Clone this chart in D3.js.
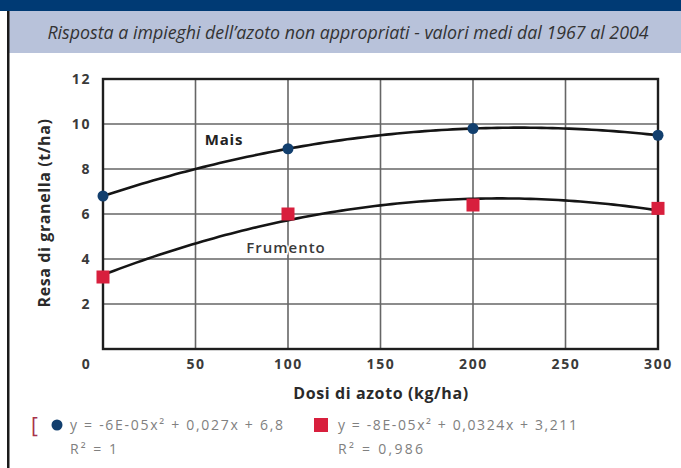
<!DOCTYPE html>
<html>
<head>
<meta charset="utf-8">
<script src="https://cdn.jsdelivr.net/npm/d3@7"></script>
<style>
  body { margin: 0; background: #fff; }
  svg { display: block; font-family: "Open Sans", "Noto Sans", sans-serif; }
</style>
</head>
<body>
<svg id="chart" width="681" height="468"></svg>
<script>
// Nitrogen dose (kg/ha) and mean grain yield (t/ha), 1967-2004
const doses = [0, 100, 200, 300];
const maisYield = [6.8, 8.9, 9.8, 9.5];
const frumentoYield = [3.2, 6.0, 6.4, 6.25];

const seriesNames = ["Mais", "Frumento"];
const xTicks = [0, 50, 100, 150, 200, 250, 300];
const yTicks = [2, 4, 6, 8, 10, 12];
const legendEquations = ["y = -6E-05x² + 0,027x + 6,8", "y = -8E-05x² + 0,0324x + 3,211"];
const legendR2 = ["R² = 1", "R² = 0,986"];
const subtitle = "Risposta a impieghi dell’azoto non appropriati  - valori medi dal 1967 al 2004";
const xTitle = "Dosi di azoto (kg/ha)";
const yTitle = "Resa di granella (t/ha)";

const W = 681, H = 468;
const plot = { left: 103, right: 658, top: 79, bottom: 349 };
const svg = d3.select("#chart");

// Header: dark strip, subtitle band, left rule
svg.append("rect").attr("x", 0).attr("y", 0).attr("width", W).attr("height", 11).attr("fill", "#003a74");
svg.append("rect").attr("x", 9).attr("y", 11).attr("width", W - 9).attr("height", 42).attr("fill", "#b8c2da");
svg.append("rect").attr("x", 7).attr("y", 11).attr("width", 2.5).attr("height", H - 11).attr("fill", "#1a1a1a");
svg.append("text")
  .attr("x", 348).attr("y", 38.5)
  .attr("text-anchor", "middle")
  .attr("font-style", "italic")
  .attr("font-size", 17.8)
  .attr("fill", "#333")
  .text(subtitle);

const x = d3.scaleLinear().domain([0, 300]).range([plot.left, plot.right]);
const y = d3.scaleLinear().domain([0, 12]).range([plot.bottom, plot.top]);

// Grid lines
const grid = svg.append("g").attr("stroke", "#666").attr("stroke-width", 1.6);
grid.selectAll("line.v").data(xTicks.filter(d => d > 0 && d < 300)).join("line")
  .attr("x1", d => x(d)).attr("x2", d => x(d))
  .attr("y1", plot.top).attr("y2", plot.bottom);
grid.selectAll("line.h").data(yTicks.filter(d => d < 12)).join("line")
  .attr("x1", plot.left).attr("x2", plot.right)
  .attr("y1", d => y(d)).attr("y2", d => y(d));

// Frame
svg.append("rect")
  .attr("x", plot.left).attr("y", plot.top)
  .attr("width", plot.right - plot.left).attr("height", plot.bottom - plot.top)
  .attr("fill", "none").attr("stroke", "#1e1e1e").attr("stroke-width", 2.4);

// Axes (labels only)
const tickFont = g => g.selectAll("text")
  .attr("font-family", "'Open Sans', sans-serif")
  .attr("font-size", 14).attr("font-weight", 700).attr("fill", "#3a3a3a")
  .attr("letter-spacing", 1.6);

const xAxis = svg.append("g")
  .attr("transform", `translate(0,${plot.bottom})`)
  .call(d3.axisBottom(x).tickValues(xTicks).tickSize(0).tickPadding(10).tickFormat(d3.format("d")));
xAxis.select(".domain").remove();
xAxis.call(tickFont);
xAxis.selectAll(".tick").filter(d => d === 0).select("text").attr("x", -17);

const yAxis = svg.append("g")
  .attr("transform", `translate(${plot.left},0)`)
  .call(d3.axisLeft(y).tickValues(yTicks).tickSize(0).tickPadding(12).tickFormat(d3.format("d")));
yAxis.select(".domain").remove();
yAxis.call(tickFont);

// Axis titles
svg.append("text")
  .attr("x", 381).attr("y", 399)
  .attr("text-anchor", "middle")
  .attr("font-size", 16).attr("font-weight", 700).attr("fill", "#2a2a2a")
  .attr("letter-spacing", 0.6)
  .text(xTitle);
svg.append("text")
  .attr("transform", "translate(50,213) rotate(-90)")
  .attr("text-anchor", "middle")
  .attr("font-size", 16).attr("font-weight", 700).attr("fill", "#2a2a2a")
  .attr("letter-spacing", 0.6)
  .text(yTitle);

// Least-squares quadratic trend through each series
function quadFit(xs, ys) {
  const s = [0, 0, 0, 0, 0], t = [0, 0, 0];
  xs.forEach((xv, i) => {
    for (let k = 0; k < 5; k++) s[k] += xv ** k;
    for (let k = 0; k < 3; k++) t[k] += ys[i] * xv ** k;
  });
  const m = [[s[0], s[1], s[2], t[0]], [s[1], s[2], s[3], t[1]], [s[2], s[3], s[4], t[2]]];
  for (let c = 0; c < 3; c++) {
    for (let r = c + 1; r < 3; r++) {
      const f = m[r][c] / m[c][c];
      for (let k = c; k < 4; k++) m[r][k] -= f * m[c][k];
    }
  }
  const coef = [0, 0, 0];
  for (let r = 2; r >= 0; r--) {
    let v = m[r][3];
    for (let k = r + 1; k < 3; k++) v -= m[r][k] * coef[k];
    coef[r] = v / m[r][r];
  }
  return xv => coef[0] + coef[1] * xv + coef[2] * xv * xv;
}

const line = d3.line().x(d => x(d[0])).y(d => y(d[1]));
const samples = d3.range(0, 301, 3);
[maisYield, frumentoYield].forEach(vals => {
  const f = quadFit(doses, vals);
  svg.append("path")
    .datum(samples.map(xv => [xv, f(xv)]))
    .attr("d", line)
    .attr("fill", "none").attr("stroke", "#151515").attr("stroke-width", 2.6);
});

// Markers
const navy = "#123f6e", red = "#d81f3d";
svg.append("g").selectAll("circle").data(doses).join("circle")
  .attr("cx", d => x(d)).attr("cy", (d, i) => y(maisYield[i]))
  .attr("r", 5.5).attr("fill", navy);
svg.append("g").selectAll("rect").data(doses).join("rect")
  .attr("x", d => x(d) - 6.5).attr("y", (d, i) => y(frumentoYield[i]) - 6.5)
  .attr("width", 13).attr("height", 13).attr("fill", red);

// Series labels
svg.append("text").attr("x", 224).attr("y", 145).attr("text-anchor", "middle")
  .attr("font-size", 15).attr("font-weight", 700).attr("fill", "#222")
  .attr("letter-spacing", 0.8).text(seriesNames[0]);
svg.append("text").attr("x", 286).attr("y", 253).attr("text-anchor", "middle")
  .attr("font-size", 15).attr("font-weight", 600).attr("fill", "#3a3a3a")
  .attr("letter-spacing", 1)
  .attr("stroke", "#fff").attr("stroke-width", 3).attr("paint-order", "stroke")
  .text(seriesNames[1]);

// Legend
const legend = svg.append("g").attr("font-size", 14).attr("fill", "#808080");
legend.append("text").attr("x", 31).attr("y", 433).attr("font-size", 21).attr("fill", "#a8324a").text("[");
legend.append("circle").attr("cx", 57).attr("cy", 425).attr("r", 5.5).attr("fill", navy);
legend.append("rect").attr("x", 314).attr("y", 418).attr("width", 14).attr("height", 14).attr("fill", red);
const eqWidths = [213, 239], r2Widths = [47, 85];
[70, 338].forEach((lx, i) => {
  legend.append("text").attr("x", lx).attr("y", 430)
    .attr("textLength", eqWidths[i]).attr("lengthAdjust", "spacing").text(legendEquations[i]);
  legend.append("text").attr("x", lx).attr("y", 454)
    .attr("textLength", r2Widths[i]).attr("lengthAdjust", "spacing").text(legendR2[i]);
});
</script>
</body>
</html>
